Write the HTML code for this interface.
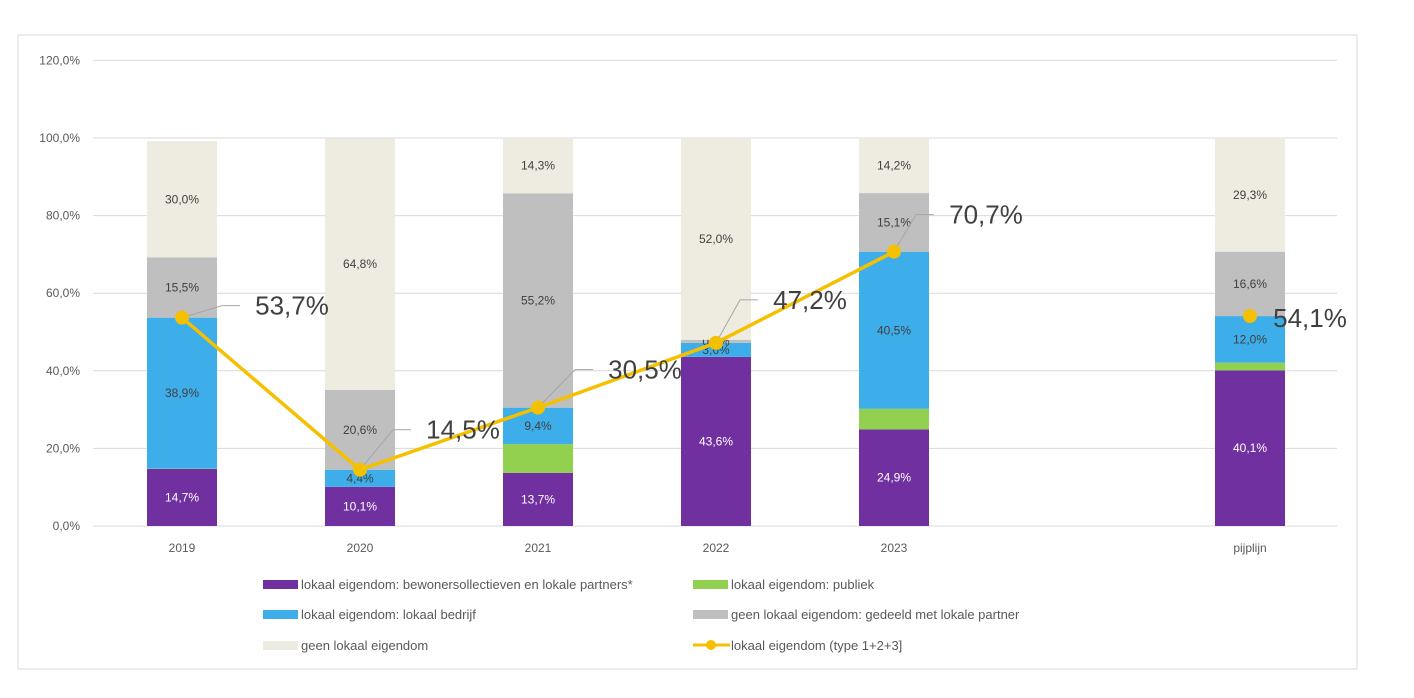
<!DOCTYPE html>
<html><head><meta charset="utf-8"><style>
body{margin:0;background:#fff;font-family:"Liberation Sans",sans-serif}
svg text{font-family:"Liberation Sans",sans-serif}
</style></head><body>
<svg width="1414" height="693">
<rect x="18" y="35" width="1339" height="634" fill="#fff" stroke="#d9d9d9"/>
<g id="grid"></g><g id="bars"></g><g id="line"></g><g id="legend"></g>
</svg>
<script>
const categories=["2019","2020","2021","2022","2023","","pijplijn"];
const bewoners=[14.7,10.1,13.7,43.6,24.9,null,40.1];
const publiek=[0.1,0,7.4,0,5.3,null,2.0];
const bedrijf=[38.9,4.4,9.4,3.6,40.5,null,12.0];
const gedeeld=[15.5,20.6,55.2,0.8,15.1,null,16.6];
const geen=[30.0,64.8,14.3,52.0,14.2,null,29.3];
const lokaalTotaal=[53.7,14.5,30.5,47.2,70.7,null,54.1];
const yTicks=[0,20,40,60,80,100,120];
const NS="http://www.w3.org/2000/svg";
const y=v=>526-v*3.88;
const x=i=>182+i*178;
const bw=70;
function el(t,a,p){const e=document.createElementNS(NS,t);for(const k in a)e.setAttribute(k,a[k]);p.appendChild(e);return e;}
const fmt=v=>v.toFixed(1).replace('.',',')+'%';
const grid=document.getElementById('grid');
yTicks.forEach(t=>{
 const l=el('line',{x1:93,x2:1337,y1:y(t),y2:y(t),stroke:'#d9d9d9'},grid);
 
 
 const tx=el('text',{x:80,y:y(t)+4,'text-anchor':'end','font-size':12,fill:'#595959'},grid);tx.textContent=fmt(t);
 
 
});
categories.forEach((c,i)=>{
 const tx=el('text',{x:x(i),y:552,'text-anchor':'middle','font-size':12,fill:'#595959'},grid);tx.textContent=c;
 
 
});
const series=[[bewoners,'#7030a0','#fff',true],[publiek,'#92d050','#404040',false],[bedrijf,'#3daee9','#404040',true],[gedeeld,'#bfbfbf','#404040',true],[geen,'#eeece1','#404040',true]];
const bars=document.getElementById('bars');
categories.forEach((c,i)=>{
 let base=0;
 series.forEach(([arr,col,tc,lab])=>{
  const v=arr[i];if(v==null)return;
  const r=el('rect',{x:x(i)-bw/2,y:y(base+v),width:bw,height:y(base)-y(base+v),fill:col},bars);
  
  
  if(lab&&v>0){const t=el('text',{x:x(i),y:(y(base)+y(base+v))/2+4,'text-anchor':'middle','font-size':12,fill:tc},bars);t.textContent=fmt(v);
  
  }
  base+=v;
 });
});
const lg=document.getElementById('line');
let pts=[];
for(let i=0;i<5;i++)pts.push(x(i)+','+y(lokaalTotaal[i]));
const pl=el('polyline',{points:pts.join(' '),fill:'none',stroke:'#f5c000','stroke-width':3.5},lg);


const off=[[110,-12],[103,-40],[107,-38],[94,-43],[92,-37],null,[60,2]];
lokaalTotaal.forEach((v,i)=>{
 if(v==null)return;
 const px=x(i),py=y(v);
 if(i<6){const o=off[i];const lx=px+o[0]-52;
  const ld=el('polyline',{points:`${px},${py} ${lx-18},${py+o[1]} ${lx},${py+o[1]}`,fill:'none',stroke:'#a6a6a6','stroke-width':1},lg);
  
  }
 const c=el('circle',{cx:px,cy:py,r:7,fill:'#f5c000'},lg);
 
 
 const t=el('text',{x:px+off[i][0],y:py+off[i][1]+9,'text-anchor':'middle','font-size':26,fill:'#404040'},lg);t.textContent=fmt(v);
 
 
});
const legendItems=[[263,584,'#7030a0','lokaal eigendom: bewonersollectieven en lokale partners*'],[693,584,'#92d050','lokaal eigendom: publiek'],[263,614,'#3daee9',' lokaal eigendom: lokaal bedrijf'],[693,614,'#bfbfbf','geen lokaal eigendom: gedeeld met lokale partner'],[263,645,'#eeece1','geen lokaal eigendom'],[693,645,'line','lokaal eigendom (type 1+2+3]']];
const L=document.getElementById('legend');
legendItems.forEach(([lx,ly,col,txt])=>{
 const g=el('g',{},L);
 
 
 if(col==='line'){el('line',{x1:lx,x2:lx+37,y1:ly,y2:ly,stroke:'#f5c000','stroke-width':3},g);el('circle',{cx:lx+18,cy:ly,r:5,fill:'#f5c000'},g);}
 else el('rect',{x:lx,y:ly-4,width:35,height:9,fill:col},g);
 const t=el('text',{x:lx+38,y:ly+5,'font-size':13,fill:'#595959'},g);t.textContent=txt;
});
</script>
</body></html>
